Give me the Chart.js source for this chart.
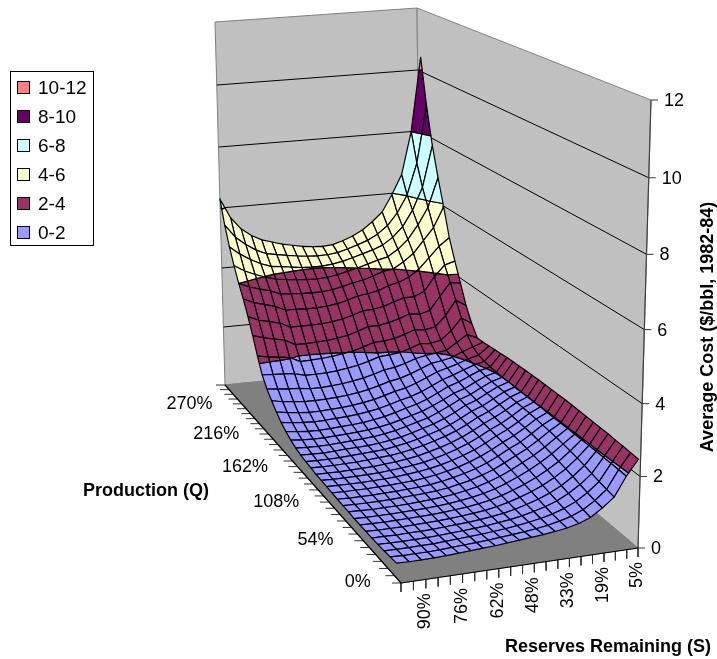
<!DOCTYPE html>
<html><head><meta charset="utf-8">
<style>html,body{margin:0;padding:0;background:#fff}canvas{display:block}</style>
<script src="https://cdn.jsdelivr.net/npm/chart.js@4/dist/chart.umd.min.js"></script>
</head><body><canvas id="c" width="717" height="659"></canvas>
<script>
const reserveLabels=['90%','76%','62%','48%','33%','19%','5%'];
const productionLabels=['0%','54%','108%','162%','216%','270%'];
const costTicks=[0,2,4,6,8,10,12];
const bandNames=['0-2','2-4','4-6','6-8','8-10','10-12'];
const bandColors=['#9999FF','#993366','#FFFFCC','#CCFFFF','#660066','#FF8080'];
// Average cost by production step for each reserves step (100%..5%)
const s00=[.40,.38,.36,.35,.34,.34,.34,.34,.35,.35,.36,.37,.38,.39,.40,.42,.44,.47,.52,.60,.70,.83,1.00,1.20,1.42,1.72,2.18,2.70,3.18,3.62,4.0,4.45,4.95,5.55,6.30];
const s01=[.39,.37,.35,.34,.34,.33,.33,.33,.34,.34,.35,.36,.37,.38,.39,.41,.43,.46,.50,.57,.66,.78,.94,1.13,1.38,1.70,2.12,2.60,3.03,3.47,3.85,4.25,4.68,5.12,5.65];
const s02=[.39,.37,.35,.34,.33,.33,.33,.33,.33,.34,.35,.36,.37,.38,.39,.41,.43,.45,.49,.55,.63,.75,.90,1.10,1.35,1.68,2.08,2.52,2.95,3.37,3.75,4.10,4.47,4.85,5.25];
const s03=[.40,.37,.36,.34,.34,.33,.33,.33,.34,.34,.35,.36,.37,.38,.40,.42,.44,.47,.50,.55,.62,.73,.87,1.06,1.33,1.65,2.03,2.45,2.87,3.28,3.66,3.98,4.30,4.63,5.0];
const s04=[.41,.38,.36,.35,.34,.34,.34,.34,.34,.35,.36,.37,.38,.39,.41,.43,.46,.49,.52,.57,.64,.74,.87,1.05,1.28,1.56,1.86,2.27,2.70,3.12,3.52,3.88,4.18,4.48,4.82];
const s05=[.43,.40,.38,.36,.35,.35,.35,.35,.35,.36,.37,.38,.39,.40,.42,.45,.48,.50,.54,.59,.66,.76,.89,1.06,1.28,1.56,1.87,2.27,2.70,3.12,3.50,3.84,4.14,4.42,4.72];
const s06=[.45,.42,.40,.38,.37,.36,.36,.36,.37,.38,.39,.40,.41,.43,.45,.48,.50,.52,.56,.61,.68,.78,.91,1.08,1.30,1.57,1.89,2.28,2.70,3.10,3.47,3.80,4.09,4.36,4.62];
const s07=[.47,.44,.42,.40,.39,.38,.38,.38,.39,.40,.41,.42,.44,.46,.48,.50,.52,.55,.59,.64,.71,.81,.94,1.11,1.33,1.60,1.92,2.30,2.71,3.10,3.46,3.77,4.05,4.31,4.55];
const s08=[.49,.46,.44,.42,.41,.41,.41,.41,.42,.43,.44,.46,.48,.50,.52,.55,.58,.60,.64,.69,.76,.86,.99,1.16,1.38,1.65,1.97,2.34,2.74,3.12,3.46,3.76,4.03,4.27,4.48];
const s09=[.52,.49,.47,.45,.44,.44,.44,.45,.46,.47,.49,.51,.53,.55,.58,.61,.64,.66,.70,.75,.82,.92,1.05,1.22,1.44,1.71,2.03,2.40,2.80,3.17,3.50,3.78,4.03,4.25,4.44];
const s10=[.55,.52,.50,.49,.48,.48,.49,.50,.52,.54,.56,.58,.60,.63,.66,.69,.72,.75,.79,.84,.91,1.01,1.14,1.31,1.53,1.80,2.12,2.50,2.89,3.25,3.57,3.84,4.07,4.26,4.42];
const s11=[.58,.55,.54,.53,.53,.54,.55,.57,.59,.61,.64,.66,.69,.72,.75,.79,.82,.85,.89,.94,1.01,1.11,1.24,1.41,1.63,1.91,2.24,2.62,3.00,3.36,3.66,3.92,4.13,4.30,4.45];
const s12=[.61,.59,.59,.59,.60,.62,.64,.66,.69,.72,.74,.77,.80,.83,.86,.89,.92,.95,.98,1.03,1.10,1.19,1.31,1.47,1.68,1.94,2.25,2.62,3.02,3.40,3.72,4.00,4.22,4.39,4.55];
const s13=[.65,.64,.65,.67,.69,.72,.75,.78,.81,.84,.87,.90,.93,.96,.99,1.02,1.05,1.08,1.12,1.17,1.22,1.31,1.43,1.58,1.77,1.98,2.30,2.68,3.08,3.47,3.82,4.10,4.32,4.50,4.68];
const s14=[.70,.71,.73,.76,.80,.84,.88,.92,.96,1.00,1.03,1.06,1.09,1.12,1.15,1.18,1.21,1.24,1.28,1.32,1.38,1.46,1.57,1.71,1.89,2.08,2.40,2.78,3.20,3.60,3.95,4.20,4.42,4.62,4.85];
const s15=[.78,.80,.84,.88,.93,.98,1.03,1.08,1.13,1.17,1.21,1.24,1.27,1.30,1.33,1.36,1.39,1.42,1.45,1.49,1.55,1.62,1.72,1.85,1.96,2.20,2.52,2.90,3.30,3.68,4.00,4.28,4.55,4.80,5.10];
const s16=[.90,.94,.99,1.05,1.10,1.16,1.21,1.26,1.30,1.34,1.37,1.40,1.43,1.45,1.48,1.50,1.52,1.54,1.57,1.60,1.66,1.73,1.81,1.90,2.00,2.18,2.48,2.86,3.30,3.82,4.20,4.50,4.78,5.05,5.40];
const s17=[1.12,1.15,1.20,1.26,1.32,1.37,1.42,1.47,1.51,1.55,1.58,1.60,1.62,1.64,1.66,1.68,1.70,1.72,1.74,1.77,1.81,1.86,1.91,1.97,2.06,2.25,2.55,2.95,3.45,4.05,4.45,4.80,5.10,5.45,5.95];
const s18=[1.38,1.42,1.47,1.53,1.59,1.64,1.68,1.72,1.75,1.78,1.80,1.82,1.84,1.85,1.86,1.87,1.88,1.89,1.90,1.92,1.95,1.98,2.03,2.12,2.28,2.52,2.88,3.38,3.90,4.40,4.85,5.25,5.62,6.02,6.60];
const s19=[1.92,1.93,1.94,1.95,1.96,1.96,1.97,1.97,1.98,1.98,1.98,1.98,1.99,1.99,1.99,1.99,1.99,2.00,2.00,2.01,2.03,2.06,2.12,2.24,2.50,2.90,3.35,3.80,4.25,4.75,5.25,5.80,6.35,7.05,8.00];
const s20=[2.35,2.37,2.39,2.40,2.42,2.43,2.44,2.45,2.46,2.47,2.48,2.48,2.48,2.48,2.48,2.47,2.47,2.46,2.45,2.44,2.42,2.40,2.38,2.36,2.36,2.70,3.15,3.75,4.35,5.00,5.90,6.75,7.70,8.90,10.40];
const cost=[s00,s01,s02,s03,s04,s05,s06,s07,s08,s09,s10,s11,s12,s13,s14,s15,s16,s17,s18,s19,s20];

function homography(p0,p1,p2,p3){
  const dx1=p1[0]-p2[0],dx2=p3[0]-p2[0],sx=p0[0]-p1[0]+p2[0]-p3[0];
  const dy1=p1[1]-p2[1],dy2=p3[1]-p2[1],sy=p0[1]-p1[1]+p2[1]-p3[1];
  const den=dx1*dy2-dx2*dy1,g=(sx*dy2-dx2*sy)/den,h=(dx1*sy-sx*dy1)/den;
  const A=p1[0]-p0[0]+g*p1[0],B=p3[0]-p0[0]+h*p3[0],D=p1[1]-p0[1]+g*p1[1],E=p3[1]-p0[1]+h*p3[1];
  return (u,v)=>{const w=g*u+h*v+1;return [(A*u+B*v+p0[0])/w,(D*u+E*v+p0[1])/w];};
}
const floorMap=homography([401,583],[638,548],[421,365],[225,385]);
const topMap=homography([399,113],[651,100],[417,8],[215,22]);
const MAXZ=12;
function project(a,b,z){
  const f=floorMap(a,b),t=topMap(a,b),w=z/MAXZ,q=w*(1-0.05*(1-w));
  return {x:f[0]+(t[0]-f[0])*q,y:f[1]+(t[1]-f[1])*q};
}
const surfA=k=>k/(cost.length-1)*1.015;
const surfB=j=>0.02+0.98*j/(cost[0].length-1);

function clipBand(cell,lo,hi){
  const clip=(pts,lim,keepAbove)=>{
    const out=[],inside=p=>keepAbove?p[2]>=lim:p[2]<=lim;
    pts.forEach((p,n)=>{
      const q=pts[(n+1)%pts.length];
      if(inside(p))out.push(p);
      if(inside(p)!==inside(q)){const r=(lim-p[2])/(q[2]-p[2]);out.push([p[0]+(q[0]-p[0])*r,p[1]+(q[1]-p[1])*r,lim]);}
    });
    return out;
  };
  let r=clip(cell,lo,true);
  if(r.length)r=clip(r,hi,false);
  return r;
}
const datasets=[];
function shape(points,fill,stroke,width){
  datasets.push({data:points,showLine:true,pointRadius:0,pointHitRadius:0,clip:false,tension:0,
    fill:fill?'shape':false,backgroundColor:fill||'transparent',borderColor:stroke,borderWidth:width,borderJoinStyle:'round',parsing:false,normalized:true});
}
const closed=p=>p.concat([p[0]]);
const black='#000000',wallEdge='#808080';
shape([project(0,1,0),project(0,0,0),project(1,0,0)],null,black,1.2);
shape([project(1,0,0),project(1,0,12)],null,'#404040',1.2);
const nS=20,nQ=34;
for(let k=0;k<=nS;k++){const p=project(k/nS,0,0);shape([p,{x:p.x,y:p.y+9}],null,'#333333',1);}
for(let j=0;j<=nQ;j++){const p=project(0,j/nQ,0);shape([p,{x:p.x-9,y:p.y}],null,'#333333',1);}
for(const z of costTicks){const p=project(1,0,z);shape([p,{x:p.x+7,y:p.y}],null,'#333333',1);}
for(let j=0;j<cost[0].length-1;j++){
  for(let k=0;k<cost.length-1;k++){
    const cell=[[k,j],[k+1,j],[k+1,j+1],[k,j+1]].map(([kk,jj])=>[surfA(kk),surfB(jj),cost[kk][jj]]);
    for(let band=bandColors.length-1;band>=0;band--){
      const poly=clipBand(cell,band*2,band*2+2);
      if(poly.length>2)shape(closed(poly.map(p=>project(p[0],p[1],p[2]))),bandColors[band],black,1.2);
    }
  }
}
for(const z of costTicks){
  if(z===0||z===12)continue;
  shape([project(0,1,z),project(1,1,z),project(1,0,z)],null,black,1);
}
shape(closed([project(0,0,0),project(1,0,0),project(1,1,0),project(0,1,0)]),'#808080','#808080',1);
shape(closed([project(1,0,0),project(1,1,0),project(1,1,12),project(1,0,12)]),'#C0C0C0',wallEdge,1);
shape(closed([project(0,1,0),project(1,1,0),project(1,1,12),project(0,1,12)]),'#C0C0C0',wallEdge,1);

const FONT='"Liberation Sans", Arial, sans-serif';
const textPlugin={id:'boxText',afterDraw(chart){
  const c=chart.ctx;c.save();c.fillStyle='#000';
  c.font='18px '+FONT;c.textBaseline='middle';
  c.textAlign='left';
  costTicks.forEach(z=>{const p=project(1,0,z);c.fillText(String(z),p.x+13,p.y+1);});
  c.textAlign='right';
  productionLabels.forEach((t,n)=>{const p=project(0,(n*6+0.5)/nQ,0);c.fillText(t,p.x-27,p.y+3);});
  reserveLabels.forEach((t,n)=>{const p=project((n*3+2)/nS,0,0);
    c.save();c.translate(p.x-1,p.y+14);c.rotate(-Math.PI/2);c.textAlign='right';c.fillText(t,0,0);c.restore();});
  c.font='bold 18px '+FONT;c.textAlign='center';
  c.fillText('Production (Q)',146,491);
  c.fillText('Reserves Remaining (S)',608,647);
  c.save();c.translate(708,327);c.rotate(-Math.PI/2);c.fillText('Average Cost ($/bbl, 1982-84)',0,0);c.restore();
  c.fillStyle='#fff';c.strokeStyle='#000';c.lineWidth=1;
  c.fillRect(10.5,71.5,83,174);c.strokeRect(10.5,71.5,83,174);
  c.font='19px '+FONT;c.textAlign='left';
  [...bandNames].reverse().forEach((t,n)=>{
    const y=88+n*29,col=[...bandColors].reverse()[n];
    c.fillStyle=col;c.fillRect(17.5,y-6.5,12,12);c.strokeRect(17.5,y-6.5,12,12);
    c.fillStyle='#000';c.fillText(t,38,y+1);
  });
  c.restore();
}};
new Chart(document.getElementById('c'),{type:'scatter',data:{datasets},plugins:[textPlugin],options:{
  responsive:false,animation:false,devicePixelRatio:1,events:[],
  layout:{padding:0},
  plugins:{legend:{display:false},tooltip:{enabled:false},title:{display:false}},
  scales:{x:{type:'linear',display:false,min:0,max:717},y:{type:'linear',display:false,reverse:true,min:0,max:659}}
}});
</script></body></html>
